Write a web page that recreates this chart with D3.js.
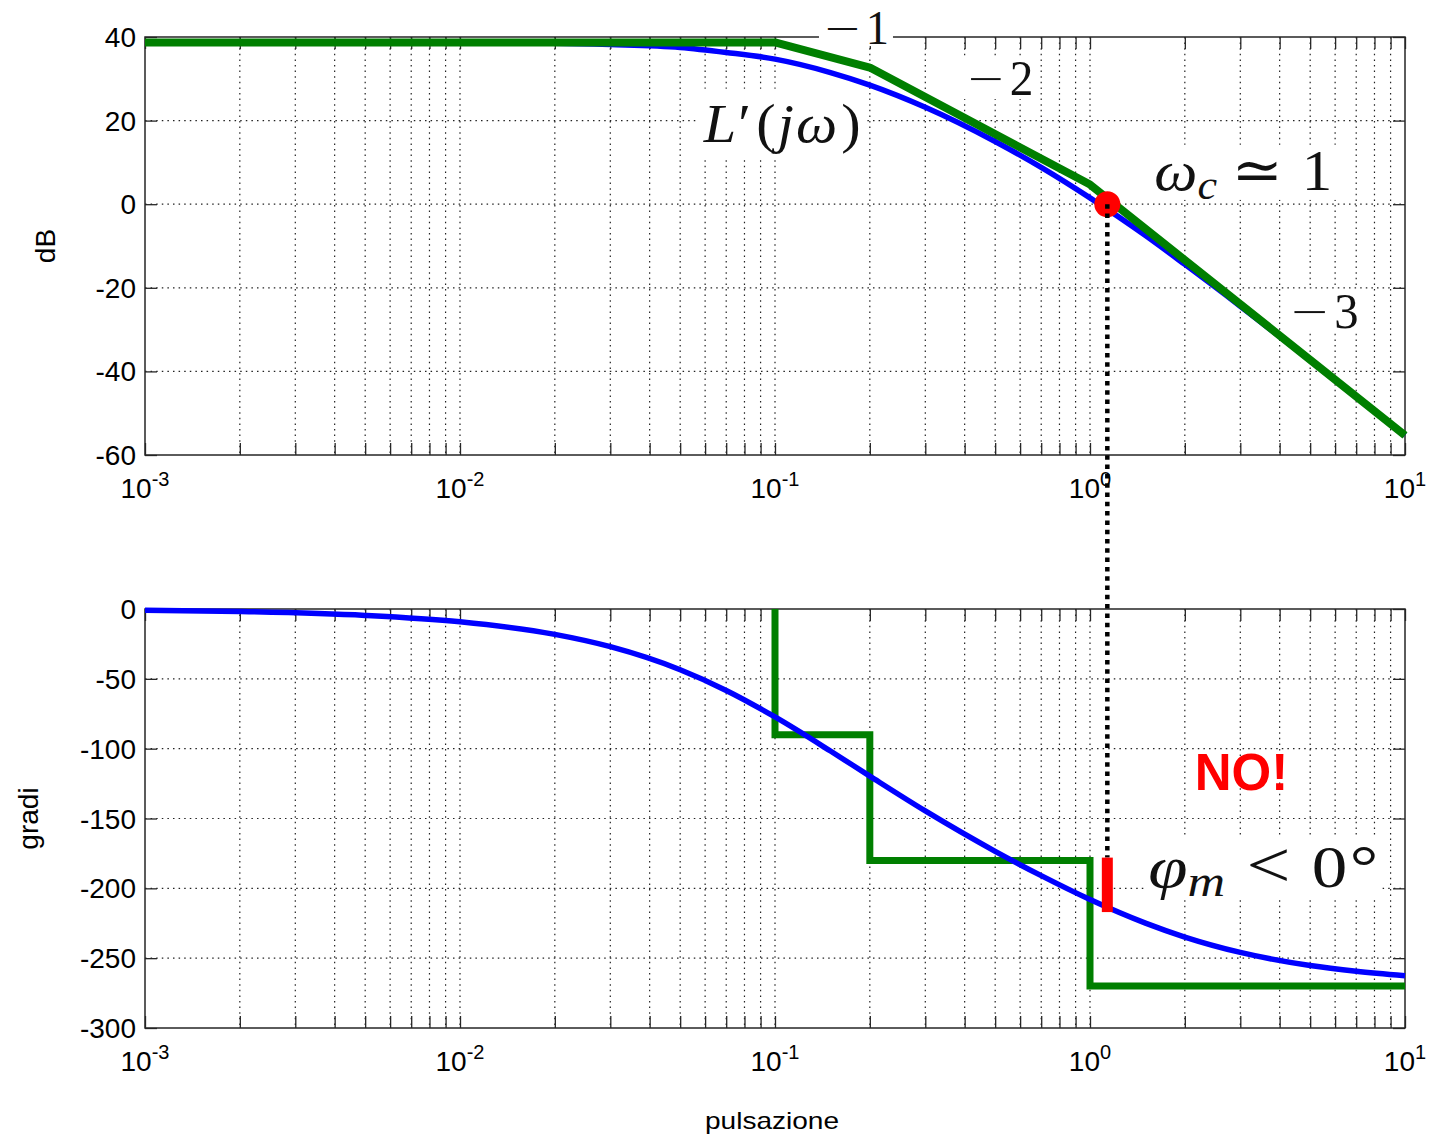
<!DOCTYPE html>
<html><head><meta charset="utf-8">
<script src="https://cdn.jsdelivr.net/npm/d3@7"></script>
<style>body{margin:0;background:#fff}svg{display:block}</style>
</head><body><svg id="c" width="1432" height="1140"></svg>
<script>
// ---------------- data ----------------
const omegaDomain = [0.001, 10];
const magDomain = [-60, 40];
const phaseDomain = [-300, 0];
const magTicks = [40, 20, 0, -20, -40, -60];
const phaseTicks = [0, -50, -100, -150, -200, -250, -300];
const decadeTicks = [0.001, 0.01, 0.1, 1, 10];
const decadeExponents = ["-3", "-2", "-1", "0", "1"];

// blue: actual magnitude |L'(jw)| in dB
const magOmega  = [0.001, 0.002, 0.005, 0.01, 0.02, 0.03, 0.05, 0.07, 0.1, 0.15, 0.2, 0.3, 0.5, 0.7, 1, 1.5, 2, 3, 5, 7, 10];
const magValues = [38.7, 38.7, 38.7, 38.6, 38.5, 38.2, 37.5, 36.3, 34.7, 31.5, 28.5, 23.2, 15.0, 8.8, 1.5, -7.5, -14.4, -24.4, -37.4, -46.1, -55.3];

// green: asymptotic magnitude
const asymMagOmega  = [0.001, 0.1, 0.2, 1, 10];
const asymMagValues = [38.7, 38.7, 32.7, 4.7, -55.3];

// blue: actual phase in degrees
const phaseOmega  = [0.001, 0.002, 0.005, 0.01, 0.02, 0.03, 0.05, 0.07, 0.1, 0.15, 0.2, 0.3, 0.5, 0.7, 1, 1.5, 2, 3, 5, 7, 10];
const phaseValues = [-0.9, -1.8, -4.6, -9.2, -18.2, -27.0, -43.5, -58.3, -77.3, -101.7, -119.7, -144.6, -173.5, -190.9, -208.0, -224.9, -234.9, -245.9, -255.3, -259.4, -262.6];

// green: asymptotic phase (steps)
const asymPhaseOmega  = [0.1, 0.1, 0.2, 0.2, 1, 1, 10];
const asymPhaseValues = [0, -90, -90, -180, -180, -270, -270];

// crossover and phase-margin marker
const crossOmega = 1.135;
const crossDb = 0;
const marginBar = [-178, -217];

// ---------------- layout ----------------
const svg = d3.select("#c");
const x = d3.scaleLog().domain(omegaDomain).range([145, 1405]);
const yMag = d3.scaleLinear().domain(magDomain).range([455, 37]);
const yPh = d3.scaleLinear().domain(phaseDomain).range([1028, 609]);

const SANS = "'Liberation Sans', Arial, Helvetica, sans-serif";
const SERIF = "'Liberation Serif', 'DejaVu Serif', serif";
const MINUSFONT = "'DejaVu Sans', sans-serif";
const gridTicks = x.ticks();

function frame(yScale, yTicks) {
  const g = svg.append("g");
  const [x0, x1] = x.range();
  const [yb, yt] = yScale.range();
  g.append("g").selectAll("line").data(gridTicks.filter(d => d > omegaDomain[0] * 1.0001 && d < omegaDomain[1] * 0.9999))
    .join("line").attr("x1", d => x(d)).attr("x2", d => x(d)).attr("y1", yt).attr("y2", yb)
    .attr("stroke", "#222").attr("stroke-width", 1.2).attr("stroke-dasharray", "1.5 4.1");
  g.append("g").selectAll("line").data(yTicks.filter(d => yScale(d) > yt + 1 && yScale(d) < yb - 1))
    .join("line").attr("x1", x0).attr("x2", x1).attr("y1", d => yScale(d)).attr("y2", d => yScale(d))
    .attr("stroke", "#222").attr("stroke-width", 1.2).attr("stroke-dasharray", "1.5 4.1");
  const tl = 12;
  const axes = [
    [d3.axisBottom(x).tickValues(gridTicks), `translate(0,${yb})`],
    [d3.axisTop(x).tickValues(gridTicks), `translate(0,${yt})`],
    [d3.axisLeft(yScale).tickValues(yTicks), `translate(${x0},0)`],
    [d3.axisRight(yScale).tickValues(yTicks), `translate(${x1},0)`]
  ];
  axes.forEach(([ax, tr]) => {
    const a = g.append("g").attr("transform", tr).call(ax.tickSize(-tl).tickFormat(""));
    a.select(".domain").remove();
    a.selectAll("line").attr("stroke", "#262626").attr("stroke-width", 1.3);
  });
  g.append("rect").attr("x", x0).attr("y", yt).attr("width", x1 - x0).attr("height", yb - yt)
    .attr("fill", "none").attr("stroke", "#262626").attr("stroke-width", 1.5);
  g.append("g").selectAll("text").data(yTicks).join("text")
    .attr("x", x0 - 9).attr("y", d => yScale(d)).attr("dy", "0.36em")
    .attr("text-anchor", "end").attr("font-family", SANS).attr("font-size", 28).attr("fill", "#000")
    .text(d => String(d));
  const xl = g.append("g").selectAll("text").data(decadeTicks).join("text")
    .attr("x", d => x(d)).attr("y", yb + 43).attr("text-anchor", "middle")
    .attr("font-family", SANS).attr("font-size", 28).attr("fill", "#000");
  xl.append("tspan").text("10");
  xl.append("tspan").attr("font-size", 20).attr("dy", -12).text((d, i) => decadeExponents[i]);
  return g;
}

frame(yMag, magTicks);
frame(yPh, phaseTicks);

// axis titles
svg.append("text").attr("transform", `translate(55,${(yMag.range()[0] + yMag.range()[1]) / 2}) rotate(-90)`)
  .attr("text-anchor", "middle").attr("font-family", SANS).attr("font-size", 28).text("dB");
svg.append("text").attr("transform", `translate(38,${(yPh.range()[0] + yPh.range()[1]) / 2}) rotate(-90)`)
  .attr("text-anchor", "middle").attr("font-family", SANS).attr("font-size", 28).text("gradi");
svg.append("text").attr("x", 772).attr("y", 1129).attr("text-anchor", "middle")
  .attr("font-family", SANS).attr("font-size", 24).attr("textLength", 134)
  .attr("lengthAdjust", "spacingAndGlyphs").text("pulsazione");

// ---------------- math annotations with white background ----------------
const annLayer = svg.append("g");
function mathLabel(px, py, fs, parts, targetW, padTop, padBottom) {
  const g = annLayer.append("g");
  const t = g.append("text").attr("x", 0).attr("y", 0).attr("font-family", SERIF)
    .attr("font-size", fs).attr("fill", "#111");
  parts.forEach(p => {
    const s = t.append("tspan").text(p.t);
    if (p.i) s.attr("font-style", "italic");
    if (p.fs) s.attr("font-size", p.fs);
    if (p.dy) s.attr("dy", p.dy);
    if (p.dx) s.attr("dx", p.dx);
    if (p.ff) s.attr("font-family", p.ff);
    if (p.fw) s.attr("font-weight", p.fw);
  });
  const bb = t.node().getBBox();
  const sx = targetW / bb.width;
  g.attr("transform", `translate(${px - bb.x * sx},${py}) scale(${sx},1)`);
  g.insert("rect", "text").attr("x", bb.x - 4 / sx).attr("y", -padTop * fs)
    .attr("width", bb.width + 8 / sx).attr("height", (padTop + padBottom) * fs).attr("fill", "#fff");
  return g;
}

mathLabel(x(0.142), yMag(38.4), 48, [{t: "\u2212", ff: MINUSFONT, fw: 300}, {t: "1", dx: 4}], 66, 0.78, 0.05);
mathLabel(x(0.405), yMag(26.1), 50, [{t: "\u2212", ff: MINUSFONT, fw: 300}, {t: "2", dx: 4}], 67, 0.78, 0.08);
mathLabel(x(4.3), yMag(-29.6), 50, [{t: "\u2212", ff: MINUSFONT, fw: 300}, {t: "3", dx: 4}], 69, 0.78, 0.08);
mathLabel(x(0.059), yMag(14.9), 56,
  [{t: "L", i: 1}, {t: "\u2032", dx: 2}, {t: "(", dx: 5}, {t: "j", i: 1, dx: 2}, {t: "\u03c9", i: 1, dx: 2}, {t: ")", dx: 4}], 158, 0.95, 0.28);
mathLabel(x(1.6), yMag(3.4), 58,
  [{t: "\u03c9", i: 1}, {t: "c", i: 1, fs: 42, dy: 9}, {t: "\u2243", dy: -9, dx: 14, ff: "'DejaVu Serif', serif"}, {t: "1", dx: 18}], 178, 0.78, 0.17);
mathLabel(x(1.53), yPh(-199), 60,
  [{t: "\u03c6", i: 1}, {t: "m", i: 1, fs: 44, dy: 9}, {t: "<", dy: -9, dx: 18, fs: 66}, {t: "0", dx: 18}, {t: "\u00b0", dx: 2}], 230, 0.83, 0.2);

svg.append("text").attr("x", x(2.15)).attr("y", yPh(-129.6)).attr("font-family", SANS)
  .attr("font-weight", "bold").attr("font-size", 51).attr("fill", "#ff0000").text("NO!");

// ---------------- curves ----------------
svg.append("path").datum(d3.zip(magOmega, magValues))
  .attr("d", d3.line().x(d => x(d[0])).y(d => yMag(d[1])).curve(d3.curveMonotoneX))
  .attr("fill", "none").attr("stroke", "#0000ff").attr("stroke-width", 5.5);
svg.append("path").datum(d3.zip(asymMagOmega, asymMagValues))
  .attr("d", d3.line().x(d => x(d[0])).y(d => yMag(d[1]))).attr("fill", "none")
  .attr("stroke", "#007f00").attr("stroke-width", 8).attr("stroke-linejoin", "round");

svg.append("path").datum(d3.zip(asymPhaseOmega, asymPhaseValues))
  .attr("d", d3.line().x(d => x(d[0])).y(d => yPh(d[1]))).attr("fill", "none")
  .attr("stroke", "#007f00").attr("stroke-width", 7).attr("stroke-linejoin", "miter");
svg.append("path").datum(d3.zip(phaseOmega, phaseValues))
  .attr("d", d3.line().x(d => x(d[0])).y(d => yPh(d[1])).curve(d3.curveMonotoneX))
  .attr("fill", "none").attr("stroke", "#0000ff").attr("stroke-width", 5.5);

// ---------------- crossover markers ----------------
svg.append("circle").attr("cx", x(crossOmega)).attr("cy", yMag(crossDb)).attr("r", 13).attr("fill", "#ff0000");
svg.append("line").attr("x1", x(crossOmega)).attr("x2", x(crossOmega))
  .attr("y1", yMag(crossDb)).attr("y2", yPh(marginBar[0]))
  .attr("stroke", "#000").attr("stroke-width", 4.5).attr("stroke-dasharray", "4.5 4.8");
svg.append("line").attr("x1", x(crossOmega)).attr("x2", x(crossOmega))
  .attr("y1", yPh(marginBar[0])).attr("y2", yPh(marginBar[1]))
  .attr("stroke", "#ff0000").attr("stroke-width", 11);
</script>
</body></html>
